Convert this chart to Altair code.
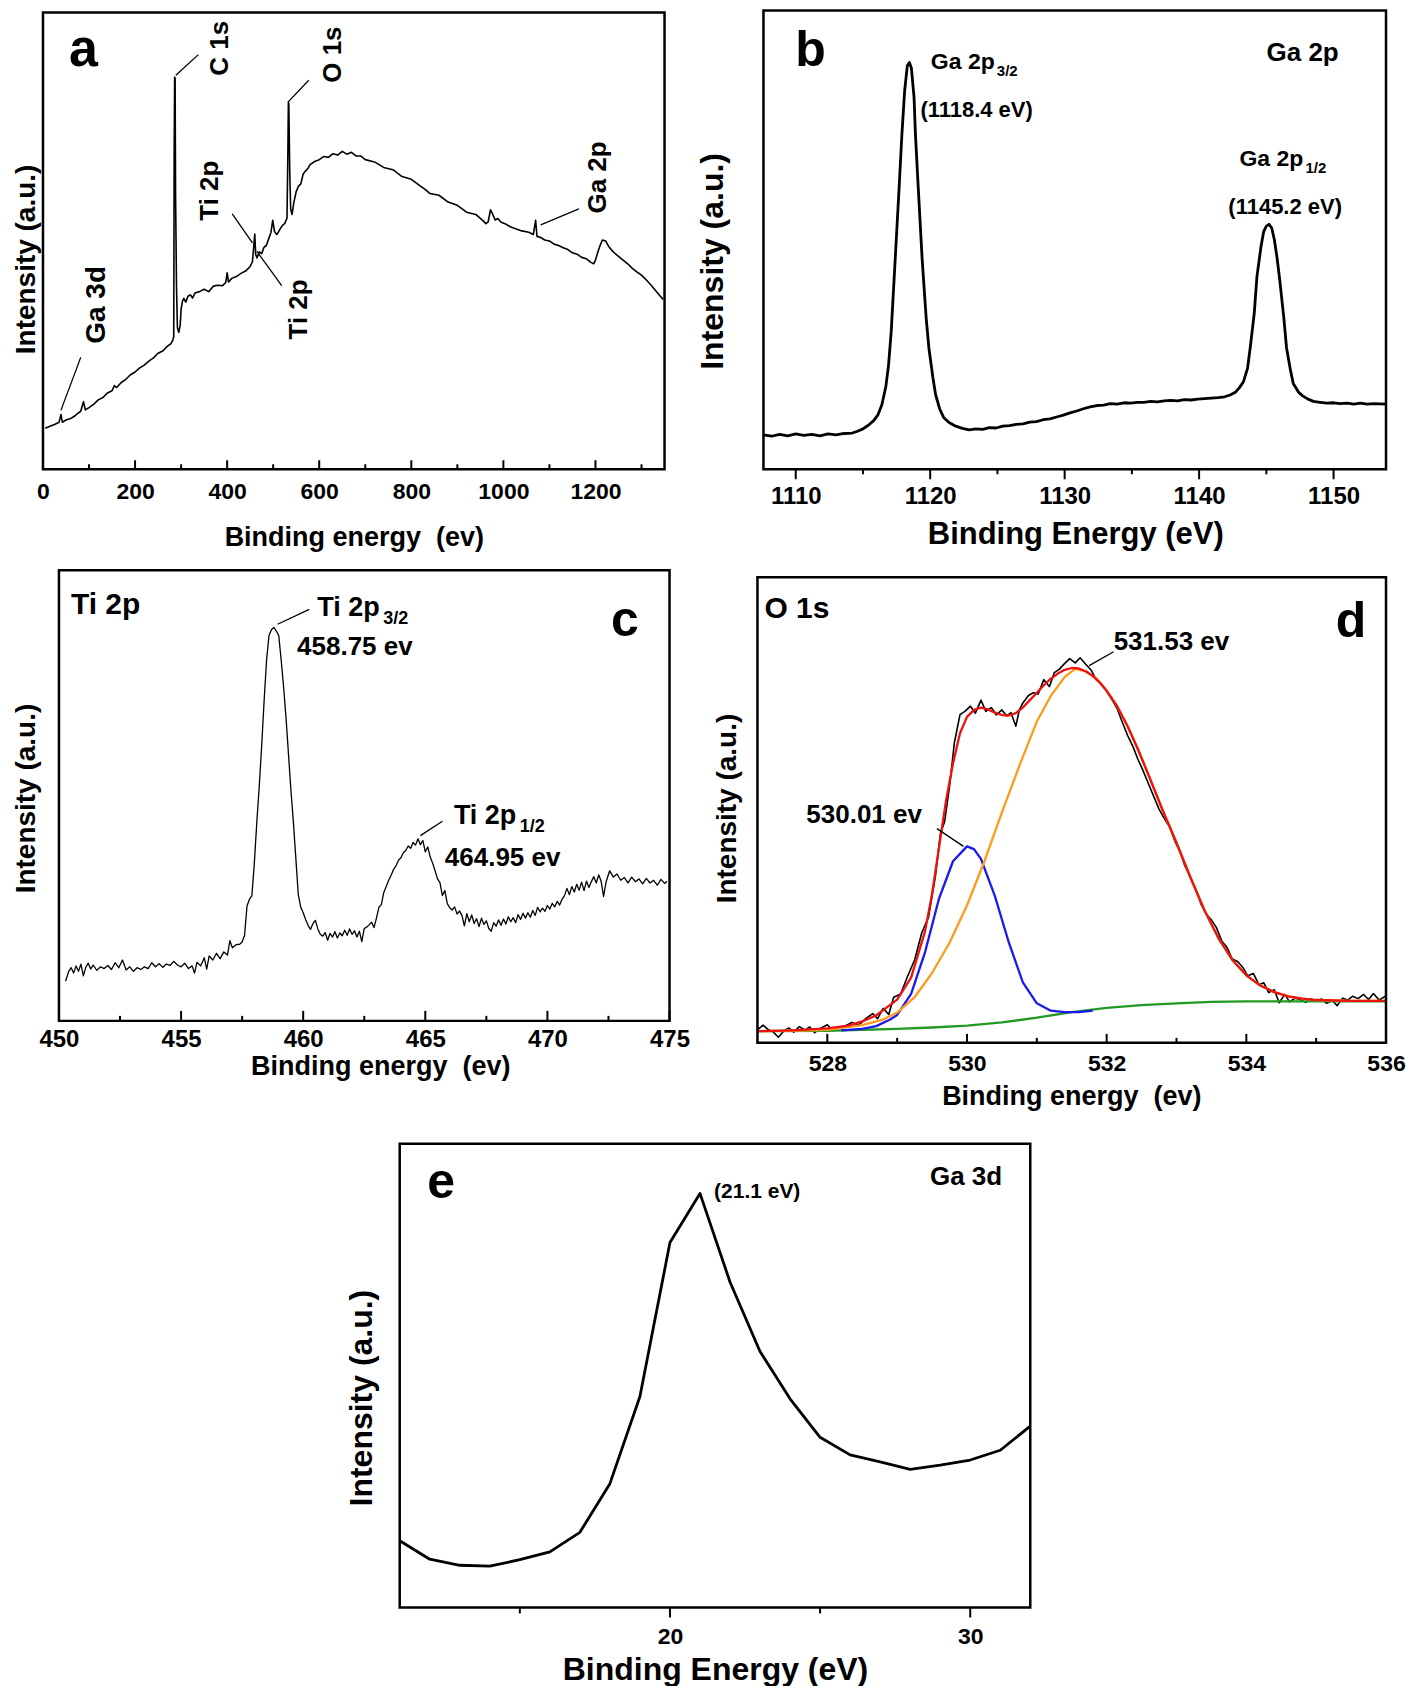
import altair as alt
import pandas as pd

FONT = "Liberation Sans"

# ---------------- panel a : survey spectrum ----------------
A_EV = [5, 15, 25, 35, 39, 42, 50, 60, 68, 75,
        82, 88, 92, 100, 110, 120, 130, 140, 150, 155,
        160, 170, 180, 190, 200, 210, 220, 230, 240, 250,
        260, 270, 278, 282, 284, 285, 286, 287, 288, 290,
        292, 295, 298, 300, 303, 306, 310, 315, 320, 325,
        330, 340, 350, 360, 370, 380, 390, 397, 400, 403,
        410, 420, 430, 440, 450, 455, 458, 460, 462, 465,
        470, 475, 480, 485, 490, 495, 499, 503, 508, 515,
        520, 525, 530, 532, 533, 534, 536, 538, 541, 545,
        550, 555, 560, 565, 570, 575, 580, 590, 600, 610,
        620, 630, 640, 650, 660, 670, 680, 690, 700, 720,
        740, 760, 780, 800, 820, 830, 840, 860, 880, 900,
        920, 940, 955, 962, 967, 972, 977, 982, 988, 995,
        1005, 1015, 1025, 1040, 1055, 1065, 1070, 1073, 1080, 1090,
        1100, 1110, 1120, 1130, 1140, 1150, 1160, 1170, 1180, 1190,
        1196, 1200, 1205, 1210, 1215, 1222, 1228, 1235, 1242, 1250,
        1260, 1270, 1280, 1290, 1300, 1310, 1320, 1330, 1340, 1347]
A_INT = [9.0, 9.4, 9.8, 10.3, 12.0, 10.3, 10.8, 11.1, 11.6, 12.2,
         12.7, 14.8, 13.0, 13.5, 14.2, 15.2, 15.7, 16.7, 17.2, 18.3,
         17.9, 19.0, 19.7, 20.7, 21.3, 22.2, 22.8, 23.7, 24.4, 25.4,
         25.9, 26.9, 27.5, 28.3, 29.0, 70.0, 85.9, 85.5, 60.0, 40.0,
         31.0, 30.0, 31.5, 35.0, 36.8, 37.4, 36.6, 37.9, 38.2, 37.5,
         38.6, 38.9, 39.4, 38.9, 40.1, 40.3, 40.2, 40.9, 43.0, 41.0,
         41.8, 42.2, 42.9, 43.4, 44.4, 45.5, 49.0, 51.5, 47.0, 46.3,
         47.6, 47.2, 48.6, 49.0, 50.4, 51.8, 54.5, 52.0, 51.4, 52.6,
         53.4, 53.8, 55.0, 70.0, 80.5, 80.0, 65.0, 57.0, 55.8, 58.5,
         60.8, 62.0, 62.5, 64.6, 65.3, 65.8, 66.7, 67.4, 67.8, 68.5,
         68.3, 69.1, 68.8, 69.6, 69.0, 69.4, 68.6, 68.6, 67.8, 67.3,
         66.1, 65.6, 64.1, 63.5, 62.0, 61.3, 60.4, 60.0, 58.5, 57.8,
         56.3, 55.8, 54.5, 53.8, 54.2, 56.8, 55.8, 54.6, 54.9, 54.1,
         53.7, 53.1, 52.7, 52.2, 51.9, 51.4, 54.5, 51.0, 50.8, 50.2,
         50.0, 49.3, 49.0, 48.5, 48.1, 47.4, 47.1, 46.4, 46.1, 45.3,
         45.0, 45.8, 47.5, 49.0, 50.2, 50.0, 48.9, 48.0, 47.3, 46.6,
         45.8, 45.0, 44.0, 43.2, 42.5, 41.5, 40.4, 39.2, 38.0, 37.2]
A_MAJOR = [0, 200, 400, 600, 800, 1000, 1200]
A_MINOR = [100, 300, 500, 700, 900, 1100, 1300]
A_PEAK_LABELS = [("C 1s", 383.5, 92.2), ("O 1s", 631, 90.8), ("Ti 2p", 362, 61.0),
                 ("Ti 2p", 557, 35.0), ("Ga 2p", 1205, 63.9)]
A_GA3D_LABEL = [("Ga 3d", 118, 36.0)]
A_LEADERS = [(288.6, 86.3, 337.5, 90.8), (533.2, 80.5, 577.2, 85.2), (411, 55.9, 455, 49.6),
             (464.7, 47.7, 518.5, 40.2), (1081, 53.5, 1164, 57.0), (39, 12.9, 82, 24.5)]

# ---------------- panel b : Ga 2p ----------------
B_EV = [1107.6, 1108.2, 1108.8, 1109.4, 1110.0, 1110.6, 1111.2, 1111.8, 1112.4, 1113.0,
        1113.6, 1114.2, 1114.6, 1115.0, 1115.4, 1115.8, 1116.1, 1116.4, 1116.7, 1116.9,
        1117.1, 1117.4, 1117.7, 1117.9, 1118.1, 1118.3, 1118.45, 1118.6, 1118.8, 1118.9,
        1119.1, 1119.4, 1119.7, 1119.9, 1120.2, 1120.4, 1120.7, 1121.0, 1121.4, 1121.9,
        1122.4, 1122.9, 1123.4, 1123.9, 1124.4, 1124.9, 1125.4, 1125.9, 1126.4, 1126.9,
        1127.4, 1127.9, 1128.4, 1128.9, 1129.4, 1129.9, 1130.4, 1130.9, 1131.4, 1131.9,
        1132.4, 1132.9, 1133.4, 1133.9, 1134.4, 1134.9, 1135.4, 1135.9, 1136.4, 1136.9,
        1137.4, 1137.9, 1138.4, 1138.9, 1139.4, 1139.9, 1140.4, 1140.9, 1141.4, 1141.9,
        1142.3, 1142.7, 1143.0, 1143.3, 1143.6, 1143.8, 1144.1, 1144.3, 1144.6, 1144.8,
        1145.0, 1145.2, 1145.4, 1145.6, 1145.8, 1146.0, 1146.3, 1146.5, 1146.8, 1147.0,
        1147.4, 1147.7, 1148.1, 1148.5, 1149.0, 1149.5, 1150.0, 1150.5, 1151.0, 1151.5,
        1152.0, 1152.5, 1153.0, 1153.9]
B_INT = [7.5, 7.2, 7.6, 7.3, 7.7, 7.4, 7.6, 7.3, 7.7, 7.5,
         7.8, 7.9, 8.3, 8.8, 9.6, 10.6, 11.8, 14.0, 18.0, 22.6,
         30.0, 45.9, 62.0, 73.2, 82.5, 88.0, 88.7, 87.5, 81.0, 73.2,
         62.0, 45.9, 33.0, 26.5, 20.0, 16.3, 13.2, 11.3, 10.2, 9.4,
         8.9, 8.6, 8.8, 8.7, 9.1, 9.0, 9.4, 9.5, 9.8, 9.9,
         10.3, 10.4, 10.8, 11.0, 11.4, 11.8, 12.3, 12.7, 13.2, 13.6,
         13.9, 14.0, 14.3, 14.2, 14.5, 14.4, 14.6, 14.6, 14.8, 14.7,
         14.9, 15.0, 14.9, 15.2, 15.1, 15.3, 15.4, 15.5, 15.6, 15.8,
         16.2, 16.8, 17.8, 19.1, 22.0, 26.5, 34.0, 42.0, 48.5, 51.8,
         53.0, 53.4, 52.6, 50.0, 46.0, 41.2, 33.0, 26.5, 21.5, 18.7,
         16.8, 16.0, 15.3, 14.8, 14.6, 14.4, 14.5, 14.3, 14.4, 14.2,
         14.4, 14.2, 14.3, 14.2]
B_MAJOR = [1110, 1120, 1130, 1140, 1150]
B_MINOR = [1115, 1125, 1135, 1145]

# ---------------- panel c : Ti 2p ----------------
C_EV = [450.27, 450.40, 450.50, 450.60, 450.70, 450.80, 450.90, 451.00, 451.10, 451.20,
        451.30, 451.40, 451.55, 451.70, 451.85, 452.00, 452.15, 452.30, 452.45, 452.60,
        452.75, 452.90, 453.05, 453.20, 453.35, 453.50, 453.65, 453.80, 453.95, 454.10,
        454.25, 454.40, 454.55, 454.70, 454.85, 455.00, 455.15, 455.30, 455.45, 455.55,
        455.65, 455.80, 455.95, 456.05, 456.15, 456.30, 456.45, 456.60, 456.75, 456.90,
        457.00, 457.10, 457.25, 457.40, 457.50, 457.60, 457.70, 457.80, 457.90, 458.00,
        458.10, 458.20, 458.30, 458.40, 458.50, 458.60, 458.70, 458.80, 458.90, 459.00,
        459.10, 459.20, 459.30, 459.40, 459.50, 459.60, 459.70, 459.80, 459.90, 460.00,
        460.10, 460.20, 460.30, 460.40, 460.50, 460.60, 460.70, 460.80, 460.90, 461.00,
        461.10, 461.20, 461.30, 461.40, 461.50, 461.60, 461.70, 461.80, 461.90, 462.00,
        462.10, 462.20, 462.30, 462.40, 462.50, 462.60, 462.70, 462.80, 462.90, 463.00,
        463.10, 463.20, 463.30, 463.40, 463.50, 463.60, 463.70, 463.80, 463.90, 464.00,
        464.10, 464.20, 464.30, 464.40, 464.50, 464.60, 464.70, 464.80, 464.90, 465.00,
        465.10, 465.20, 465.30, 465.40, 465.50, 465.60, 465.70, 465.80, 465.90, 466.00,
        466.10, 466.20, 466.30, 466.40, 466.50, 466.60, 466.70, 466.80, 466.90, 467.00,
        467.10, 467.20, 467.30, 467.40, 467.50, 467.60, 467.70, 467.80, 467.90, 468.00,
        468.10, 468.20, 468.30, 468.40, 468.50, 468.60, 468.70, 468.80, 468.90, 469.00,
        469.10, 469.20, 469.30, 469.40, 469.50, 469.60, 469.70, 469.80, 469.90, 470.00,
        470.10, 470.20, 470.30, 470.40, 470.50, 470.60, 470.70, 470.80, 470.90, 471.00,
        471.10, 471.20, 471.30, 471.40, 471.50, 471.60, 471.70, 471.80, 471.90, 472.00,
        472.10, 472.20, 472.30, 472.40, 472.55, 472.70, 472.85, 473.00, 473.15, 473.30,
        473.45, 473.60, 473.75, 473.90, 474.05, 474.20, 474.35, 474.50, 474.65, 474.80,
        474.90]
C_INT = [8.8, 11.0, 11.8, 10.6, 12.2, 11.0, 12.6, 10.0, 11.9, 12.8,
         11.5, 12.4, 11.2, 12.0, 11.6, 12.3, 11.4, 12.9, 11.8, 13.5,
         11.3, 12.0, 11.0, 11.8, 11.4, 12.0, 11.6, 12.9, 12.0, 12.7,
         11.9, 12.6, 12.3, 13.2, 12.4, 12.0, 12.8, 11.6, 12.2, 10.6,
         13.0, 12.2, 14.0, 11.5, 14.4, 13.5, 15.0, 13.8, 15.3, 14.6,
         17.8, 16.2, 16.9, 17.0, 17.5, 19.0, 25.5, 27.0, 27.8, 35.0,
         44.0, 52.0, 61.0, 71.0, 80.0, 85.5, 86.8, 87.3, 86.5, 85.5,
         80.0, 74.0, 67.0, 59.0, 51.0, 44.0, 36.0, 28.0, 25.2, 24.0,
         22.5, 21.2, 20.3, 21.6, 22.3, 20.4, 19.2, 18.8, 19.6, 17.9,
         19.4, 18.6, 19.8, 18.4, 19.5, 18.9, 20.1, 19.0, 20.4, 19.2,
         20.0, 18.6, 19.9, 17.6, 20.5, 20.8, 21.3, 21.9, 20.7, 22.8,
         25.2, 25.8, 28.5, 29.8, 31.2, 32.3, 33.6, 34.4, 35.6, 36.2,
         37.3, 37.8, 38.8, 38.3, 39.6, 39.0, 40.4, 39.1, 40.0, 37.5,
         38.6, 36.4, 35.0, 33.3, 31.5, 30.7, 27.8, 28.9, 26.0, 25.1,
         24.6, 25.3, 23.7, 24.4, 23.4, 21.1, 23.8, 22.0, 23.5, 21.6,
         22.7, 20.9, 22.8, 21.4, 22.2, 20.5, 19.9, 21.8, 21.0, 22.4,
         21.2, 22.6, 21.5, 23.1, 22.0, 22.9, 21.8, 23.6, 22.5, 23.9,
         22.8, 24.0, 23.0, 24.5, 23.4, 25.2, 24.2, 25.0, 24.3, 25.6,
         24.8, 26.1, 25.3, 26.5, 25.7, 27.0, 27.8, 29.4, 28.0, 29.8,
         28.6, 30.3, 29.0, 30.8, 28.9, 31.0, 29.6, 30.9, 32.0, 30.6,
         32.4, 31.0, 27.6, 30.8, 33.3, 31.9, 32.6, 31.2, 31.8, 30.6,
         31.9, 30.9, 31.5, 30.4, 31.6, 30.6, 31.2, 30.1, 31.4, 30.5,
         31.0]
C_MAJOR = [450, 455, 460, 465, 470, 475]
C_MINOR = [452.5, 457.5, 462.5, 467.5, 472.5]

# ---------------- panel d : O 1s ----------------
D_EV = [527.00, 527.08, 527.15, 527.22, 527.30, 527.38, 527.45, 527.52, 527.60, 527.68,
        527.75, 527.82, 527.90, 528.00, 528.08, 528.15, 528.25, 528.35, 528.45, 528.55,
        528.65, 528.72, 528.80, 528.88, 528.95, 529.05, 529.15, 529.25, 529.35, 529.45,
        529.55, 529.62, 529.68, 529.75, 529.82, 529.90, 529.97, 530.05, 530.12, 530.20,
        530.27, 530.35, 530.42, 530.50, 530.57, 530.63, 530.70, 530.75, 530.80, 530.88,
        530.95, 531.02, 531.10, 531.18, 531.25, 531.32, 531.40, 531.47, 531.55, 531.62,
        531.70, 531.78, 531.85, 531.92, 532.00, 532.08, 532.15, 532.22, 532.30, 532.38,
        532.45, 532.52, 532.60, 532.68, 532.75, 532.82, 532.90, 532.98, 533.05, 533.12,
        533.20, 533.28, 533.35, 533.42, 533.50, 533.57, 533.65, 533.72, 533.80, 533.88,
        533.95, 534.02, 534.10, 534.18, 534.25, 534.32, 534.40, 534.47, 534.55, 534.62,
        534.70, 534.77, 534.85, 534.92, 535.00, 535.08, 535.15, 535.23, 535.30, 535.38,
        535.45, 535.52, 535.60, 535.68, 535.75, 535.82, 535.90, 536.00]
D_INT = [2.8, 3.8, 2.9, 2.4, 1.2, 2.6, 3.2, 2.3, 3.5, 2.7,
         3.4, 2.2, 3.1, 3.9, 2.6, 3.3, 3.6, 4.4, 3.8, 5.2,
         6.3, 5.2, 7.4, 6.1, 9.8, 10.5, 14.3, 17.8, 23.5, 27.0,
         36.0, 45.0, 47.5, 55.0, 64.5, 70.5, 71.2, 72.3, 70.8, 73.6,
         71.2, 72.0, 70.4, 71.5, 70.2, 70.9, 68.0, 71.5, 73.0, 74.6,
         75.2, 74.9, 78.0, 76.5, 79.5, 80.2, 81.5, 82.5, 81.6, 82.7,
         81.3, 80.0, 78.0, 77.2, 75.5, 73.6, 71.8, 69.0, 66.0, 63.5,
         60.8, 58.5, 55.6, 52.7, 50.2, 48.3, 46.4, 43.2, 41.0, 38.0,
         35.6, 32.8, 29.8, 27.8, 26.4, 24.8, 21.8, 20.6, 18.0, 17.4,
         16.2, 14.4, 14.9, 12.5, 12.9, 10.8, 11.4, 8.6, 10.4, 8.8,
         9.6, 9.3, 8.7, 9.5, 9.0, 9.4, 8.5, 9.1, 8.0, 9.6,
         9.2, 10.0, 9.5, 10.4, 9.3, 10.6, 9.2, 10.1]
D_SUM_EV = [527.0, 527.5, 528.0, 528.3, 528.5, 528.7, 529.0, 529.2, 529.4, 529.5,
            529.6, 529.7, 529.8, 529.9, 530.0, 530.1, 530.2, 530.3, 530.4, 530.5,
            530.6, 530.7, 530.8, 530.9, 531.0, 531.1, 531.2, 531.3, 531.4, 531.5,
            531.6, 531.7, 531.8, 531.9, 532.0, 532.15, 532.3, 532.45, 532.6, 532.8,
            533.0, 533.2, 533.4, 533.6, 533.8, 534.0, 534.2, 534.4, 534.6, 534.8,
            535.0, 535.5, 536.0]
D_SUM = [2.5, 2.7, 3.1, 3.7, 4.6, 5.9, 9.3, 14.0, 24.0, 32.0,
         42.0, 52.0, 60.0, 66.5, 70.0, 71.5, 72.0, 71.6, 70.9, 70.4,
         70.3, 70.8, 72.0, 73.6, 75.2, 76.8, 78.2, 79.3, 80.1, 80.5,
         80.4, 79.8, 78.8, 77.4, 75.6, 72.3, 68.0, 63.0, 57.5, 50.0,
         43.0, 35.5, 28.5, 22.5, 17.8, 14.5, 12.3, 10.9, 10.0, 9.5,
         9.2, 9.0, 9.0]
D_OV_EV = [527.0, 527.5, 528.0, 528.5, 528.8, 529.0, 529.25, 529.5, 529.75, 530.0,
           530.25, 530.5, 530.75, 531.0, 531.2, 531.4, 531.55, 531.7, 531.85, 532.0,
           532.15, 532.3, 532.45, 532.6, 532.8, 533.0, 533.2, 533.4, 533.6, 533.8,
           534.0, 534.2, 534.4, 534.6, 534.8, 535.0, 535.5, 536.0]
D_OV = [2.5, 2.6, 2.8, 3.8, 5.0, 6.5, 9.8, 15.0, 21.5, 29.5,
        39.0, 49.5, 59.5, 69.0, 74.5, 78.6, 80.3, 79.8, 78.3, 75.6,
        72.3, 68.0, 63.0, 57.5, 50.0, 43.0, 35.5, 28.5, 22.5, 17.8,
        14.5, 12.3, 10.9, 10.0, 9.5, 9.2, 9.0, 9.0]
D_LAT_EV = [528.2, 528.5, 528.7, 528.9, 529.0, 529.2, 529.4, 529.6, 529.8, 530.0,
            530.1, 530.2, 530.4, 530.6, 530.8, 531.0, 531.2, 531.4, 531.6, 531.8]
D_LAT = [2.7, 3.0, 3.6, 5.0, 6.0, 10.5, 19.5, 31.0, 39.0, 42.2,
         41.6, 39.5, 31.5, 21.5, 13.0, 8.5, 6.9, 6.6, 6.6, 6.9]
D_BG_EV = [527.0, 528.0, 529.0, 529.5, 530.0, 530.5, 531.0, 531.5, 532.0, 532.5,
           533.0, 533.5, 534.0, 535.0, 536.0]
D_BG = [2.5, 2.6, 3.0, 3.3, 3.7, 4.4, 5.4, 6.6, 7.5, 8.1,
        8.5, 8.8, 8.9, 8.9, 8.9]
D_MAJOR = [528, 530, 532, 534, 536]
D_MINOR = [529, 531, 533, 535]

# ---------------- panel e : Ga 3d ----------------
E_EV = [11, 12, 13, 14, 15, 16, 17, 18, 19, 20, 21, 22, 23, 24, 25, 26, 27, 28, 29, 30, 31, 32]
E_INT = [14.4, 10.4, 9.1, 8.9, 10.3, 12.0, 16.2, 26.7, 45.5, 78.7, 89.3,
         70.2, 55.2, 45.0, 36.7, 32.9, 31.4, 29.8, 30.7, 31.8, 33.9, 39.1]
E_MAJOR = [20, 30]
E_MINOR = [15, 25]

TITLE_LOWER = "Binding energy \u00a0(ev)"
TITLE_UPPER = "Binding Energy (eV)"


def x_axis(values, lsize, lpad, title, tsize, tx, ty):
    return alt.Axis(orient="bottom", values=values, format="d", ticks=False, tickSize=0,
                    domain=False, grid=False,
                    labelFont=FONT, labelFontSize=lsize, labelFontWeight="bold", labelColor="black",
                    labelPadding=lpad, labelBaseline="middle", labelFlush=False, labelOverlap=False,
                    title=title, titleFont=FONT, titleFontSize=tsize, titleFontWeight="bold",
                    titleColor="black", titleX=tx, titleY=ty, titleAlign="center",
                    titleBaseline="middle", titleAngle=0)


def y_axis(tsize, tx, ty):
    return alt.Axis(orient="left", labels=False, ticks=False, tickSize=0, domain=False, grid=False,
                    title="Intensity (a.u.)", titleFont=FONT, titleFontSize=tsize,
                    titleFontWeight="bold", titleColor="black", titleX=tx, titleY=ty,
                    titleAngle=270, titleAlign="center", titleBaseline="middle")


def panel(curves, xdom, xrange, ybot, ytop, xax, yax, major, minor, outward,
          mlen, nlen, texts, leaders):
    xs = alt.Scale(domain=xdom, range=xrange, nice=False, zero=False)
    ys = alt.Scale(domain=[0, 100], range=[ybot, ytop], nice=False, zero=False)
    X = lambda f: alt.X(f, scale=xs, axis=xax)
    Y = lambda f: alt.Y(f, scale=ys, axis=yax)
    layers = []
    for xv, yv, color, sw in curves:
        df = pd.DataFrame({"x": xv, "y": yv})
        layers.append(alt.Chart(df).mark_line(color=color, strokeWidth=sw,
                                              strokeJoin="round").encode(
            x=X("x:Q"), y=Y("y:Q")))
    for vals, L in ((major, mlen), (minor, nlen)):
        df = pd.DataFrame({"v": vals})
        y2 = ybot + L if outward else ybot - L
        layers.append(alt.Chart(df).mark_rule(color="black", strokeWidth=2).encode(
            x=X("v:Q"), y=alt.value(ybot), y2=alt.value(y2)))
    if leaders:
        df = pd.DataFrame(leaders, columns=["x", "y", "x2", "y2"])
        layers.append(alt.Chart(df).mark_rule(color="black", strokeWidth=1.3).encode(
            x=X("x:Q"), y=Y("y:Q"), x2="x2:Q", y2="y2:Q"))
    for t in texts:
        df = pd.DataFrame(t["rows"], columns=["t", "x", "y"])
        layers.append(alt.Chart(df).mark_text(
            font=FONT, fontSize=t["size"], fontWeight=t.get("weight", "bold"),
            angle=t.get("angle", 0), align=t.get("align", "left"),
            baseline=t.get("baseline", "alphabetic"), dx=t.get("dx", 0), dy=t.get("dy", 0),
            color="black").encode(x=X("x:Q"), y=Y("y:Q"), text="t:N"))
    fr = pd.DataFrame({"x0": [xdom[0]], "x1": [xdom[1]], "y0": [0], "y1": [100]})
    layers.append(alt.Chart(fr).mark_rect(fillOpacity=0, stroke="black", strokeWidth=2.5).encode(
        x=X("x0:Q"), x2="x1:Q", y=Y("y0:Q"), y2="y1:Q"))
    return alt.layer(*layers)


def row(panels, W, H):
    if len(panels) == 1:
        return panels[0].properties(width=W, height=H)
    return alt.layer(*panels).resolve_scale(x="independent", y="independent").resolve_axis(
        x="independent", y="independent").properties(width=W, height=H)


# ---- row 1 (height 459) ----
pa = panel(
    [(A_EV, A_INT, "black", 1.6)], [0, 1350], [0, 622], 459, 2,
    x_axis(A_MAJOR, 23, 22, TITLE_LOWER, 27, 311, 68),
    y_axis(28, -16, 248.5),
    A_MAJOR, A_MINOR, False, 9, 5,
    [dict(rows=[("a", 88, 88.3)], size=52, align="center"),
     dict(rows=A_PEAK_LABELS, size=26, angle=270, align="center", baseline="middle"),
     dict(rows=A_GA3D_LABEL, size=28, angle=270, align="center", baseline="middle")],
    A_LEADERS)

pb = panel(
    [(B_EV, B_INT, "black", 2.8)], [1107.6, 1153.9], [721, 1344], 459, 0,
    x_axis(B_MAJOR, 24, 27, TITLE_UPPER, 31, 1033, 65),
    y_axis(32, 670, 250.5),
    B_MAJOR, B_MINOR, True, 10, 5,
    [dict(rows=[("b", 1111.1, 87.9)], size=50, align="center"),
     dict(rows=[("Ga 2p", 1147.7, 89.1)], size=26, align="center"),
     dict(rows=[("Ga 2p", 1120.05, 87.2), ("Ga 2p", 1143.0, 66.1)], size=23),
     dict(rows=[("3/2", 1120.05, 87.2), ("1/2", 1143.0, 66.1)], size=15, dx=66, dy=7),
     dict(rows=[("(1118.4 eV)", 1123.45, 76.7), ("(1145.2 eV)", 1146.4, 55.6)], size=22, align="center")],
    [])

# ---- row 2 (height 473; c frame 0..451, d frame 7..473) ----
pc = panel(
    [(C_EV, C_INT, "black", 1.3)], [450, 475], [16, 627], 451, 0,
    x_axis(C_MAJOR, 24, -3, TITLE_LOWER, 27, 337.5, 24),
    y_axis(28, -16, 228),
    C_MAJOR, C_MINOR, False, 10, 5,
    [dict(rows=[("Ti 2p", 450.49, 90.3)], size=30),
     dict(rows=[("c", 473.17, 85.5)], size=50, align="center"),
     dict(rows=[("Ti 2p", 460.58, 89.9), ("Ti 2p", 466.17, 43.7)], size=27),
     dict(rows=[("3/2", 460.58, 89.9), ("1/2", 466.17, 43.7)], size=18, dx=66, dy=8),
     dict(rows=[("458.75 ev", 459.75, 81.1), ("464.95 ev", 465.8, 34.4)], size=26)],
    [(458.95, 88.0, 460.25, 91.3), (464.8, 41.1, 465.7, 44.3)])

pd_ = panel(
    [(D_EV, D_INT, "black", 1.6), (D_BG_EV, D_BG, "#229922", 2.3),
     (D_LAT_EV, D_LAT, "#1a1aee", 2.3), (D_OV_EV, D_OV, "#ff9a1f", 2.3),
     (D_SUM_EV, D_SUM, "#ee1111", 2.3)],
    [527, 536], [715, 1344], 473, 7,
    x_axis(D_MAJOR, 23, 21, TITLE_LOWER, 27, 1029, 54),
    y_axis(28, 685, 238),
    D_MAJOR, D_MINOR, False, 9, 5,
    [dict(rows=[("O 1s", 527.1, 91.3)], size=30),
     dict(rows=[("d", 535.5, 87.1)], size=50, align="center"),
     dict(rows=[("531.53 ev", 532.1, 84.4), ("530.01 ev", 527.7, 47.2)], size=26)],
    [(531.75, 81.0, 532.1, 84.0), (529.57, 46.0, 529.95, 42.2)])

# ---- row 3 (height 464) ----
pe = panel(
    [(E_EV, E_INT, "black", 2.8)], [11, 32], [357, 988], 464, 0,
    x_axis(E_MAJOR, 23, 29, TITLE_UPPER, 32, 672.5, 62),
    y_axis(32, 319, 254),
    E_MAJOR, E_MINOR, True, 10, 6,
    [dict(rows=[("e", 12.38, 88.4)], size=50, align="center"),
     dict(rows=[("Ga 3d", 28.66, 91.2)], size=26),
     dict(rows=[("(21.1 eV)", 21.47, 88.4)], size=21)],
    [])

chart = alt.vconcat(
    row([pa, pb], 1344, 459),
    row([pc, pd_], 1344, 473),
    row([pe], 988, 464),
    spacing=101,
    bounds="flush",
).properties(
    padding={"left": 4, "top": 0, "right": 0, "bottom": 0}
).configure(background="white", font=FONT).configure_view(strokeOpacity=0, strokeWidth=0)

chart.save("out.html", embed_options={"renderer": "svg", "actions": False})
